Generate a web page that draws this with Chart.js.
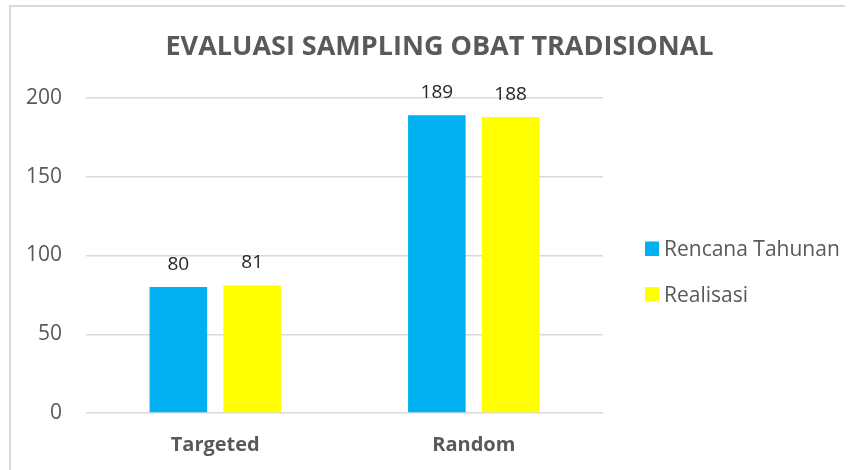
<!DOCTYPE html>
<html>
<head>
<meta charset="utf-8">
<script src="https://cdn.jsdelivr.net/npm/chart.js@4.4.1/dist/chart.umd.min.js"></script>
<style>
  body { margin: 0; background: #fff; overflow: hidden; }
  #wrap { position: relative; width: 853px; height: 470px; }
  #frame {
    position: absolute; left: 9px; top: 5px; width: 834px; height: 465px;
    border-top: 2px solid #d9d9d9; border-left: 2px solid #d9d9d9;
  }
  #sampling-chart { position: absolute; left: 0; top: 0; }
</style>
</head>
<body>
<div id="wrap">
  <div id="frame"></div>
  <canvas id="sampling-chart" width="853" height="470"></canvas>
</div>
<script>
// Data evaluasi sampling
const chartTitle = 'EVALUASI SAMPLING OBAT TRADISIONAL';
const categories = ['Targeted', 'Random'];
const seriesNames = ['Rencana Tahunan', 'Realisasi'];
const rencanaValues = [80, 189];
const realisasiValues = [81, 188];
const seriesColors = ['#00B0F0', '#FFFF00'];
const yMin = 0;
const yMax = 200;
const yStep = 50;

const FONT = "'Open Sans', 'DejaVu Sans', sans-serif";
const GREY = '#595959';

// Judul, legenda dan label nilai digambar sendiri
const decorPlugin = {
  id: 'decor',
  afterDatasetsDraw(chart) {
    const ctx = chart.ctx;
    ctx.save();
    // label nilai di atas batang
    ctx.font = '19px ' + FONT;
    ctx.fillStyle = '#262626';
    ctx.textAlign = 'center';
    ctx.textBaseline = 'alphabetic';
    chart.data.datasets.forEach((ds, i) => {
      chart.getDatasetMeta(i).data.forEach((bar, j) => {
        ctx.fillText(ds.data[j], bar.x, bar.y - 17);
      });
    });
    ctx.restore();
  },
  afterDraw(chart) {
    const ctx = chart.ctx;
    const area = chart.chartArea;
    ctx.save();
    // judul
    ctx.font = 'bold 27px ' + FONT;
    ctx.fillStyle = GREY;
    ctx.textAlign = 'center';
    ctx.textBaseline = 'alphabetic';
    ctx.fillText(chartTitle, 439.5, 55);
    // legenda
    ctx.font = '21px ' + FONT;
    ctx.textAlign = 'left';
    chart.data.datasets.forEach((ds, i) => {
      const x = area.right + 42;
      const base = 256 + i * 45.5;
      ctx.fillStyle = ds.backgroundColor;
      ctx.fillRect(x, base - 14.5, 14, 14.5);
      ctx.fillStyle = GREY;
      ctx.fillText(ds.label, x + 19, base);
    });
    ctx.restore();
  }
};

const ctx = document.getElementById('sampling-chart').getContext('2d');
const samplingChart = new Chart(ctx, {
  type: 'bar',
  data: {
    labels: categories,
    datasets: [
      {
        label: seriesNames[0],
        data: rencanaValues,
        backgroundColor: seriesColors[0],
        categoryPercentage: 0.571,
        barPercentage: 0.78
      },
      {
        label: seriesNames[1],
        data: realisasiValues,
        backgroundColor: seriesColors[1],
        categoryPercentage: 0.571,
        barPercentage: 0.78
      }
    ]
  },
  options: {
    responsive: false,
    animation: false,
    layout: {
      padding: { left: 26, right: 250, top: 98, bottom: 0 }
    },
    scales: {
      x: {
        grid: { display: false },
        border: { display: false },
        afterFit: (scale) => { scale.height = 57; },
        ticks: {
          color: GREY,
          padding: 12,
          font: { family: FONT, size: 20, weight: 'bold' }
        }
      },
      y: {
        min: yMin,
        max: yMax,
        border: { display: false },
        afterFit: (scale) => { scale.width = 60; },
        grid: {
          color: '#d9d9d9',
          lineWidth: 1.5,
          drawTicks: false
        },
        ticks: {
          stepSize: yStep,
          color: GREY,
          padding: 24,
          font: { family: FONT, size: 21 }
        }
      }
    },
    plugins: {
      legend: { display: false },
      title: { display: false },
      tooltip: { enabled: false }
    }
  },
  plugins: [decorPlugin]
});
</script>
</body>
</html>
